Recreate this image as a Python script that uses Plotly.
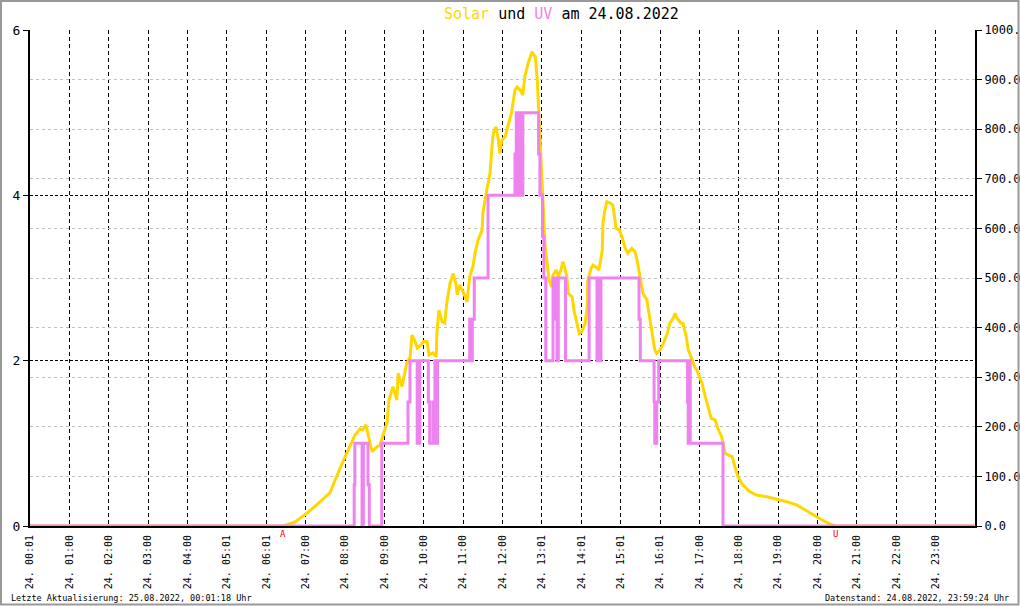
import plotly.graph_objects as go

# ---------------- data ----------------
tick_labels = ["24. 00:01", "24. 01:00", "24. 02:00", "24. 03:00", "24. 04:00", "24. 05:01",
               "24. 06:01", "24. 07:00", "24. 08:00", "24. 09:00", "24. 10:00", "24. 11:00",
               "24. 12:00", "24. 13:01", "24. 14:01", "24. 15:01", "24. 16:01", "24. 17:00",
               "24. 18:00", "24. 19:00", "24. 20:00", "24. 21:00", "24. 22:00", "24. 23:00"]

solar_times = ["00:00", "06:26", "06:44", "07:02", "07:19", "07:37", "07:52", "08:08", "08:15", "08:23",
               "08:27", "08:32", "08:35", "08:41", "08:49", "08:53", "08:58", "09:04", "09:07", "09:13",
               "09:19", "09:21", "09:27", "09:30", "09:34", "09:39", "09:42", "09:47", "09:50", "09:56",
               "09:59", "10:05", "10:08", "10:14", "10:19", "10:20", "10:23", "10:28", "10:32", "10:35",
               "10:40", "10:45", "10:49", "10:51", "10:55", "11:00", "11:06", "11:10", "11:15", "11:18",
               "11:23", "11:29", "11:30", "11:36", "11:41", "11:44", "11:46", "11:50", "11:53", "11:56",
               "11:59", "12:04", "12:08", "12:14", "12:19", "12:22", "12:27", "12:31", "12:34", "12:39",
               "12:45", "12:50", "12:53", "12:56", "12:59", "13:02", "13:03", "13:05", "13:08", "13:11",
               "13:15", "13:17", "13:22", "13:25", "13:29", "13:32", "13:35", "13:38", "13:40", "13:46",
               "13:49", "13:54", "13:57", "14:01", "14:06", "14:09", "14:10", "14:15", "14:18", "14:24",
               "14:27", "14:32", "14:33", "14:36", "14:39", "14:44", "14:48", "14:50", "14:53", "14:58",
               "15:02", "15:07", "15:11", "15:17", "15:22", "15:25", "15:30", "15:34", "15:40", "15:45",
               "15:49", "15:52", "15:55", "16:00", "16:05", "16:11", "16:15", "16:20", "16:23", "16:26",
               "16:32", "16:35", "16:40", "16:43", "16:49", "16:53", "16:56", "17:04", "17:09", "17:13",
               "17:18", "17:24", "17:28", "17:34", "17:39", "17:44", "17:50", "17:54", "17:59", "18:06",
               "18:17", "18:28", "18:43", "18:58", "19:13", "19:29", "19:41", "19:53", "20:07", "20:19",
               "20:27", "23:59"]
solar_wm2 = [0, 0, 8, 26, 45, 67, 115, 160, 183, 196,
             194, 204, 187, 150, 160, 162, 183, 208, 254, 281,
             254, 308, 281, 304, 328, 339, 385, 372, 359, 365,
             372, 372, 345, 349, 341, 389, 435, 412, 409, 449,
             489, 509, 489, 466, 486, 472, 452, 503, 523, 550,
             577, 597, 630, 677, 711, 765, 792, 805, 785, 751,
             778, 785, 805, 835, 879, 885, 879, 869, 906, 933,
             956, 946, 899, 812, 724, 660, 617, 563, 530, 496,
             482, 506, 516, 503, 516, 533, 520, 503, 469, 462,
             435, 409, 388, 392, 409, 442, 496, 520, 526, 520,
             516, 556, 610, 637, 654, 651, 647, 630, 600, 597,
             583, 560, 550, 560, 553, 536, 503, 469, 456, 415,
             382, 355, 348, 355, 368, 388, 409, 419, 429, 419,
             409, 409, 382, 355, 335, 320, 315, 288, 261, 240,
             217, 214, 197, 180, 147, 143, 140, 120, 99, 83,
             69, 62, 59, 54, 49, 42, 32, 22, 12, 4,
             0, 0]

uv_times = ["00:00", "08:14", "08:15", "08:26", "08:28", "08:35", "08:37", "08:56", "09:36", "09:39",
            "09:50", "09:51", "09:53", "09:54", "10:07", "10:09", "10:14", "10:16", "10:17", "10:19",
            "10:21", "11:10", "11:13", "11:14", "11:17", "11:38", "12:19", "12:21", "12:22", "12:24",
            "12:25", "12:28", "12:30", "12:31", "12:55", "12:57", "13:01", "13:03", "13:06", "13:17",
            "13:18", "13:20", "13:23", "13:25", "13:36", "14:12", "14:24", "14:26", "14:28", "14:30",
            "15:28", "15:30", "15:51", "15:52", "15:55", "15:58", "16:42", "16:43", "16:45", "16:46",
            "17:36", "23:59"]
uv_index = [0, 0.5, 1, 0, 1, 0.5, 0, 1, 1.5, 2,
            1, 2, 1, 2, 1.5, 1, 1.5, 1, 2, 1,
            2, 2.5, 2, 2.5, 3, 4, 4.5, 5, 4, 5,
            4, 5, 4, 5, 4.5, 4, 3.5, 3, 2, 3,
            2.5, 3, 2, 3, 2, 3, 2, 3, 2, 3,
            2.5, 2, 1.5, 1, 1.5, 2, 1.5, 1, 2, 1,
            0, 0]

sunrise_time = "06:26"
sunset_time = "20:27"


def to_hours(t):
    hh, mm = t.split(":")
    return int(hh) + int(mm) / 60.0


solar_h = [to_hours(t) for t in solar_times]
uv_h = [to_hours(t) for t in uv_times]

FONT = "DejaVu Sans Mono"
GOLD = "#FFD700"
VIOLET = "#EE82EE"

fig = go.Figure()
# solar on the right axis (y), UV on the left overlay axis (y2, drawn on top)
fig.add_trace(go.Scatter(x=solar_h, y=solar_wm2, yaxis="y", mode="lines",
                         line=dict(color=GOLD, width=3), cliponaxis=False,
                         name="Solar", hoverinfo="skip"))
fig.add_trace(go.Scatter(x=uv_h, y=uv_index, yaxis="y2", mode="lines",
                         line=dict(color=VIOLET, width=3, shape="hv"), cliponaxis=False,
                         name="UV", hoverinfo="skip"))

# paper coordinate helpers (plot area 30..975 x 30..526 px)
L, R, T, B = 30, 45, 30, 80
W, H = 1020, 606
PW, PH = W - L - R, H - T - B


def px(xp):
    return (xp - L) / PW


def py(yp):
    return (H - B - yp) / PH


fig.update_layout(
    template="none",
    width=W, height=H,
    margin=dict(l=L, r=R, t=T, b=B, pad=0),
    paper_bgcolor="white", plot_bgcolor="white",
    showlegend=False,
    font=dict(family=FONT, color="black"),
    xaxis=dict(range=[0, 24], tickvals=list(range(24)), ticktext=tick_labels,
               tickangle=-90, tickfont=dict(family=FONT, size=10, color="black"),
               showgrid=True, gridcolor="black", griddash="4px,3px", gridwidth=1,
               showline=True, linecolor="black", linewidth=2, zeroline=False,
               ticks="outside", ticklen=3, tickcolor="rgba(0,0,0,0)",
               layer="below traces", automargin=False, fixedrange=True),
    yaxis=dict(range=[0, 1000], side="right",
               tickvals=list(range(0, 1001, 100)),
               ticktext=["%.1f" % v for v in range(0, 1001, 100)],
               tickfont=dict(family=FONT, size=12, color="black"),
               showgrid=True, gridcolor="#C0C0C0", griddash="3px,3px", gridwidth=1,
               showline=True, linecolor="black", linewidth=2, zeroline=False,
               ticks="outside", ticklen=5, tickcolor="black", tickwidth=1,
               layer="below traces", automargin=False, fixedrange=True),
    yaxis2=dict(range=[0, 6], side="left", overlaying="y",
                tickvals=[0, 2, 4, 6], ticktext=["0", "2", "4", "6"],
                tickfont=dict(family=FONT, size=13, color="black"),
                showgrid=True, gridcolor="black", griddash="3px,2px", gridwidth=1,
                showline=True, linecolor="black", linewidth=2, zeroline=False,
                ticks="outside", ticklen=5, tickcolor="black", tickwidth=1,
                layer="below traces", automargin=False, fixedrange=True),
)

# title
fig.add_annotation(xref="paper", yref="paper", x=px(442), y=py(14),
                   xanchor="left", yanchor="middle", showarrow=False,
                   text='<span style="color:%s">Solar</span> und <span style="color:%s">UV</span> am 24.08.2022' % (GOLD, VIOLET),
                   font=dict(family=FONT, size=15, color="black"))

# sunrise / sunset markers
for t, s in [(sunrise_time, "A"), (sunset_time, "U")]:
    fig.add_annotation(xref="x", yref="paper", x=to_hours(t), y=0, yshift=-1,
                       xanchor="center", yanchor="top", showarrow=False, text=s,
                       font=dict(family=FONT, size=9, color="red"))

# footer
fig.add_annotation(xref="paper", yref="paper", x=px(9), y=py(598),
                   xanchor="left", yanchor="middle", showarrow=False,
                   text="Letzte Aktualisierung: 25.08.2022, 00:01:18 Uhr",
                   font=dict(family=FONT, size=8.5, color="black"))
fig.add_annotation(xref="paper", yref="paper", x=px(1011), y=py(598),
                   xanchor="right", yanchor="middle", showarrow=False,
                   text="Datenstand: 24.08.2022, 23:59:24 Uhr",
                   font=dict(family=FONT, size=8.5, color="black"))

# outer gray frame
fig.add_shape(type="rect", xref="paper", yref="paper",
              x0=px(1), x1=px(1018.5), y0=py(604.5), y1=py(1),
              line=dict(color="#999999", width=2), layer="above")

fig.write_html("out.html",
               config={"displayModeBar": False},
               post_script="document.body.style.margin='0';document.body.style.padding='0';"
                           "document.body.style.overflow='hidden';")
